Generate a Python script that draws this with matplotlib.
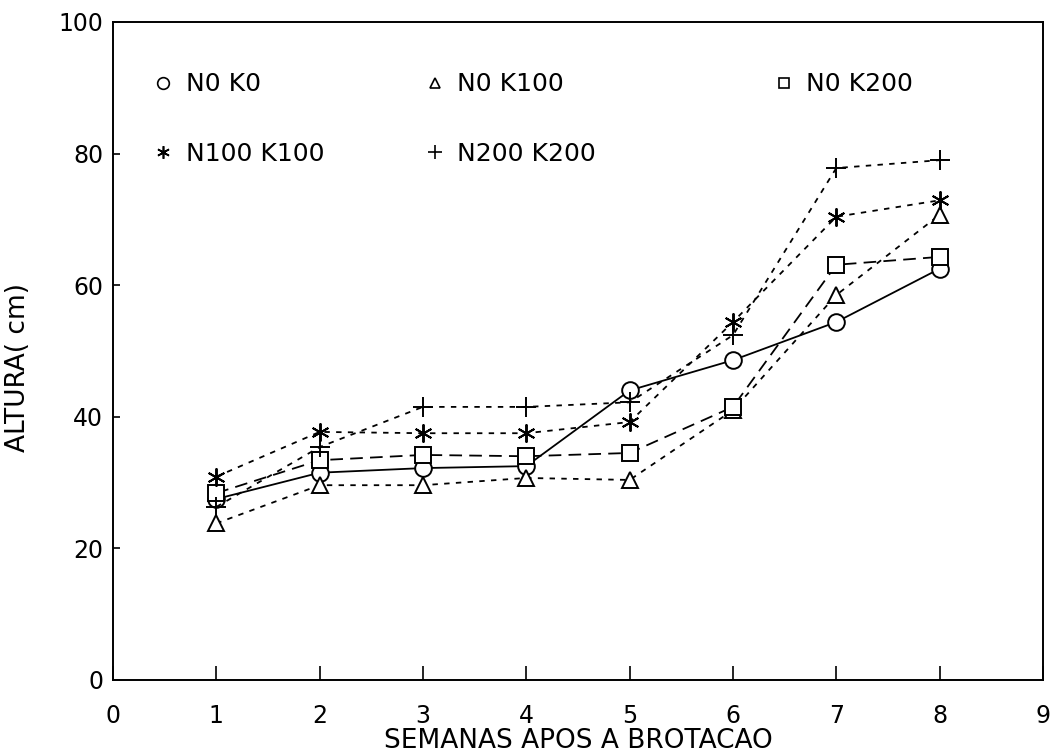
import matplotlib
matplotlib.use("Agg")
import matplotlib.pyplot as plt
from matplotlib.lines import Line2D
from matplotlib.legend import Legend

# weeks after sprouting and plant height (cm)
weeks = [1, 2, 3, 4, 5, 6, 7, 8]
n0k0 = [27.5, 31.5, 32.2, 32.5, 44.0, 48.6, 54.4, 62.5]
n0k100 = [23.8, 29.6, 29.6, 30.7, 30.4, 41.0, 58.5, 70.7]
n0k200 = [28.4, 33.4, 34.2, 34.0, 34.5, 41.5, 63.1, 64.3]
n100k100 = [30.9, 37.7, 37.5, 37.5, 39.2, 54.4, 70.4, 72.9]
n200k200 = [26.3, 35.4, 41.5, 41.5, 42.2, 52.4, 77.8, 79.0]

labels = ["N0 K0", "N0 K100", "N0 K200", "N100 K100", "N200 K200"]
xticks = [0, 1, 2, 3, 4, 5, 6, 7, 8, 9]
yticks = [0, 20, 40, 60, 80, 100]

plt.rcParams['font.family'] = ['DejaVu Sans']
fig = plt.figure(figsize=(10.5, 7.53), dpi=100)
ax = fig.add_axes([0.1076, 0.097, 0.8857, 0.8738])

dotted = (0, (3.0, 3.5))
dashed = (0, (7.0, 4.0))
series = [
    (n0k0, 'o', '-', 12),
    (n0k100, '^', dotted, 11),
    (n0k200, 's', dashed, 11),
    (n100k100, (6, 2, 0), dotted, 13),
    (n200k200, '+', dotted, 14),
]

for (vals, mk, ls, ms), lab in zip(series, labels):
    ax.plot(weeks, vals, color='black', linestyle=ls, linewidth=1.3,
            marker=mk, markersize=ms, markerfacecolor='white',
            markeredgecolor='black', markeredgewidth=1.4, label=lab)

ax.set_xlim(0, 9)
ax.set_ylim(0, 100)
ax.set_xticks(xticks)
ax.set_yticks(yticks)
ax.tick_params(axis='x', direction='in', length=10, width=1.2, pad=17, labelsize=17)
ax.tick_params(axis='y', direction='in', length=5, width=1.2, pad=7, labelsize=17)
for sp in ax.spines.values():
    sp.set_linewidth(1.4)

ax.set_xlabel("SEMANAS APOS A BROTACAO", fontsize=19, labelpad=0)
ax.set_ylabel("ALTURA( cm)", fontsize=19)
ax.yaxis.set_label_coords(-0.088, 0.475)

# legend: one small key per entry, laid out in two rows like the original
key_pos = [(0.046, 0.905), (0.338, 0.905), (0.713, 0.905),
           (0.046, 0.80), (0.338, 0.80)]
for (vals, mk, ls, ms), lab, (lx, ly) in zip(series, labels, key_pos):
    h = Line2D([], [], color='black', linestyle='none', marker=mk,
               markersize=ms * 0.7, markerfacecolor='white',
               markeredgewidth=1.2)
    leg = Legend(ax, [h], [lab], loc='center left', bbox_to_anchor=(lx, ly),
                 frameon=False, fontsize=18, handlelength=0.6,
                 handletextpad=0.6, borderpad=0, borderaxespad=0)
    ax.add_artist(leg)

fig.savefig("out.png", dpi=100)
